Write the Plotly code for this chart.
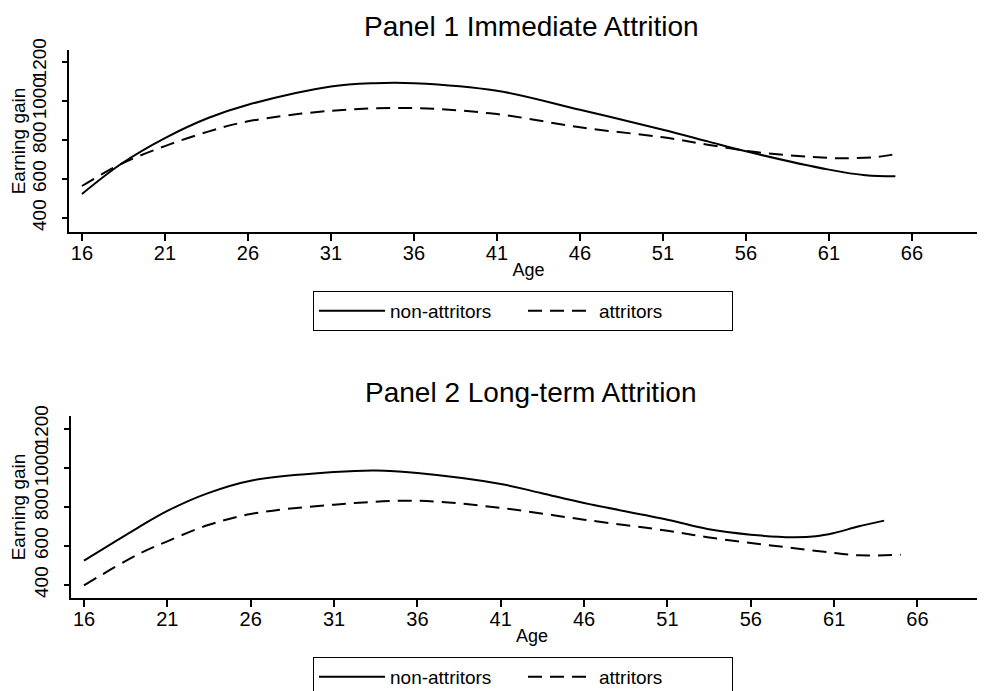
import plotly.graph_objects as go

# ---------------- data ----------------
p1_age_non = [16, 18.35, 21, 23.6, 26, 31, 33.6, 36, 41, 46, 51, 53.7, 56, 61, 63.2, 65]
p1_non = [523, 677, 810, 913, 981, 1075, 1092, 1092, 1053, 955, 853, 793, 742, 648, 619, 614]
p1_age_att = [16, 18.35, 21, 23.6, 26, 31, 36, 41, 46, 51, 53.7, 56.6, 61, 62.6, 64, 65]
p1_att = [564, 677, 769, 843, 896, 950, 964, 933, 865, 814, 776, 738, 708, 707, 714, 728]

p2_age_non = [16, 19.2, 21, 23.4, 26, 31, 33.5, 36, 41, 43.4, 46, 51, 53.4, 56, 58.5, 59.9, 61, 62.5, 64]
p2_non = [525, 692, 780, 870, 935, 979, 987, 974, 918, 872, 820, 735, 687, 658, 645, 650, 667, 701, 730]
p2_age_att = [16, 19.2, 21, 23.4, 26, 31, 36, 41, 46, 51, 53.4, 56, 58.5, 61, 62.5, 65]
p2_att = [398, 555, 624, 706, 764, 812, 832, 795, 735, 678, 645, 615, 590, 564, 552, 555]

x_ticks = [16, 21, 26, 31, 36, 41, 46, 51, 56, 61, 66]
y_ticks = [400, 600, 800, 1000, 1200]
titles = ["Panel 1 Immediate Attrition", "Panel 2 Long-term Attrition"]
series_names = ["non-attritors", "attritors"]

W, H = 985, 691
FONT = "Liberation Sans, Arial, Helvetica, sans-serif"
DASH = "14px,8px"

fig = go.Figure()

def add(xs, ys, name, dash, xa, ya, legend):
    fig.add_trace(go.Scatter(
        x=xs, y=ys, mode="lines", name=name,
        line=dict(color="black", width=2, dash=dash, shape="spline", smoothing=1.0),
        xaxis=xa, yaxis=ya, legend=legend, showlegend=True))

add(p1_age_non, p1_non, series_names[0], "solid", "x", "y", "legend")
add(p1_age_att, p1_att, series_names[1], DASH, "x", "y", "legend")
add(p2_age_non, p2_non, series_names[0], "solid", "x2", "y2", "legend2")
add(p2_age_att, p2_att, series_names[1], DASH, "x2", "y2", "legend2")

def xaxis_cfg(dom, rng, anchor):
    return dict(domain=dom, range=rng, anchor=anchor, tickvals=x_ticks,
                ticks="outside", ticklen=7, tickwidth=1.5, tickcolor="black",
                showline=True, linecolor="black", linewidth=2, showgrid=False,
                zeroline=False, automargin=False, ticklabelstandoff=-5,
                tickfont=dict(size=20, color="black", family=FONT),
                title=dict(text="Age", font=dict(size=18, color="black", family=FONT), standoff=0))

def yaxis_cfg(dom, rng, anchor):
    return dict(domain=dom, range=rng, anchor=anchor, tickvals=y_ticks,
                tickangle=-90, ticks="outside", ticklen=5, tickwidth=1.5, tickcolor="black",
                showline=True, linecolor="black", linewidth=2, showgrid=False,
                zeroline=False, automargin=False, ticklabelstandoff=8,
                tickfont=dict(size=19, color="black", family=FONT),
                title=dict(text="Earning gain", font=dict(size=19, color="black", family=FONT), standoff=1))

def leg(ytop):
    return dict(orientation="h", x=515 / W, xanchor="center", y=ytop, yanchor="top",
                xref="paper", yref="paper",
                bordercolor="black", borderwidth=1, bgcolor="white",
                itemwidth=66, entrywidth=128, entrywidthmode="pixels",
                font=dict(size=19, color="black", family=FONT),
                itemclick=False, itemdoubleclick=False)

fig.update_layout(
    width=W, height=H,
    margin=dict(l=0, r=0, t=0, b=0),
    paper_bgcolor="white", plot_bgcolor="white",
    font=dict(family=FONT, color="black"),
    xaxis=xaxis_cfg([61 / W, 980 / W], [15.22, 70.58], "y"),
    yaxis=yaxis_cfg([1 - 224 / H, 1 - 42 / H], [328, 1262], "x"),
    xaxis2=xaxis_cfg([63 / W, 985 / W], [15.22, 70.53], "y2"),
    yaxis2=yaxis_cfg([1 - 590 / H, 1 - 408 / H], [333, 1267], "x2"),
    legend=leg(1 - 283 / H),
    legend2=leg(1 - 649 / H),
    showlegend=True,
    annotations=[
        dict(text=titles[0], x=523 / W, y=1 - 18 / H, xref="paper", yref="paper",
             xanchor="center", yanchor="middle", showarrow=False,
             font=dict(size=28, color="black", family=FONT)),
        dict(text=titles[1], x=523 / W, y=1 - 384 / H, xref="paper", yref="paper",
             xanchor="center", yanchor="middle", showarrow=False,
             font=dict(size=28, color="black", family=FONT)),
    ],
)

fig.write_html("out.html")
